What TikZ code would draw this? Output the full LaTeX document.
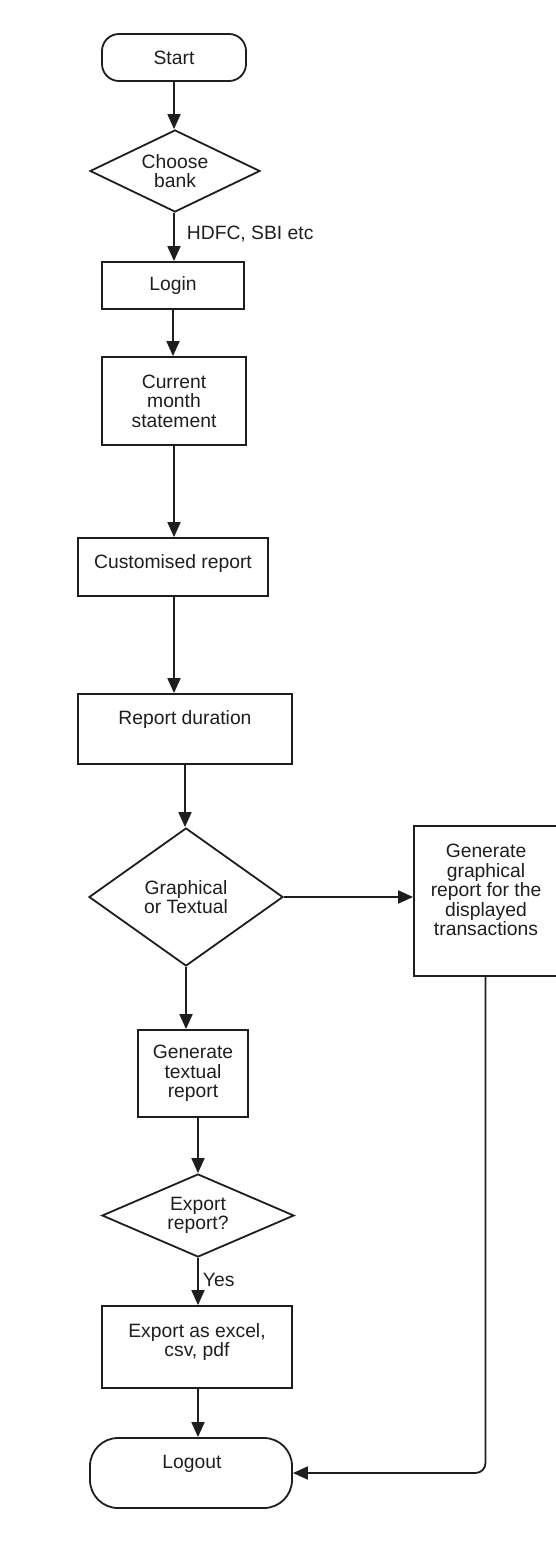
\documentclass[tikz,border=0pt]{standalone}
\usepackage{fontspec}
\setmainfont{Liberation Sans}
\usetikzlibrary{arrows.meta,shapes.geometric}
\definecolor{ink}{HTML}{1E1E1E}
\begin{document}
\begin{tikzpicture}[x=1pt,y=-1pt,
  every node/.style={font=\fontsize{19.3}{19.6}\selectfont, text=ink, align=center},
  box/.style={draw=ink, line width=1.8pt, rectangle, inner sep=0pt},
  term/.style={box, rounded corners=#1},
  decision/.style={draw=ink, line width=1.8pt, diamond, inner sep=0pt},
  arr/.style={draw=ink, line width=1.8pt, -{Triangle[length=15pt,width=13pt]}},
  txt/.style={inner sep=0pt}]
\useasboundingbox (0,0) rectangle (555,1549);

\node[term=17pt, minimum width=144pt, minimum height=47pt] (start) at (174,57.5) {Start};
\node[decision, aspect=2.07, minimum width=170pt, minimum height=82pt] (choose) at (175,171) {Choose\\bank};
\node[box, minimum width=142pt, minimum height=47pt] (login) at (173,285.5) {\raisebox{-1.5pt}{Login}};
\node[box, minimum width=144pt, minimum height=88pt] (current) at (174,401) {Current\\month\\statement};
\node[box, minimum width=190pt, minimum height=58pt] (custom) at (173,567) {};
\node[txt] (customt) at (173,564) {Customised report};
\node[box, minimum width=214pt, minimum height=70pt] (duration) at (185,729) {};
\node[txt] (durationt) at (185,720) {Report duration};
\node[decision, aspect=1.41, minimum width=194pt, minimum height=138pt] (graph) at (186,897) {Graphical\\or Textual};
\node[box, minimum width=143pt, minimum height=150pt] (gbox) at (485.5,901) {};
\node[txt] (gboxt) at (486,890) {Generate\\graphical\\report for the\\displayed\\transactions};
\node[box, minimum width=110pt, minimum height=87pt] (textual) at (193,1073.5) {Generate\\textual\\report};
\node[decision, aspect=2.31, minimum width=192pt, minimum height=83pt] (export) at (198,1215.5) {Export\\report?};
\node[box, minimum width=190pt, minimum height=82pt] (expbox) at (197,1347) {};
\node[txt] (expboxt) at (197,1342) {Export as excel,\\csv, pdf};
\node[term=28pt, minimum width=202pt, minimum height=70pt] (logout) at (191,1473) {};
\node[txt] (logoutt) at (192,1464) {Logout};

\draw[arr] (start.south) -- (start.south |- choose.north);
\draw[arr] (choose.south -| start.south) -- (login.north -| start.south)
  node[pos=0.44, anchor=west, txt, xshift=12pt] (hdfc) {HDFC, SBI etc};
\draw[arr] (login.south) -- (login.south |- current.north);
\draw[arr] (current.south) -- (current.south |- custom.north);
\draw[arr] (custom.south -| current.south) -- (duration.north -| current.south);
\draw[arr] (duration.south) -- (duration.south |- graph.north);
\draw[arr] (graph.east) -- (graph.east -| gbox.west);
\draw[arr] (graph.south) -- (graph.south |- textual.north);
\draw[arr] (export.north |- textual.south) -- (export.north);
\draw[arr] (export.south) -- (export.south |- expbox.north)
  node[pos=0.46, anchor=west, txt, xshift=4pt] (yes) {Yes};
\draw[arr] (expbox.south -| export.south) -- (logout.north -| export.south);
\draw[arr, rounded corners=10pt] (gbox.south) |- (logout.east);
\end{tikzpicture}
\end{document}
